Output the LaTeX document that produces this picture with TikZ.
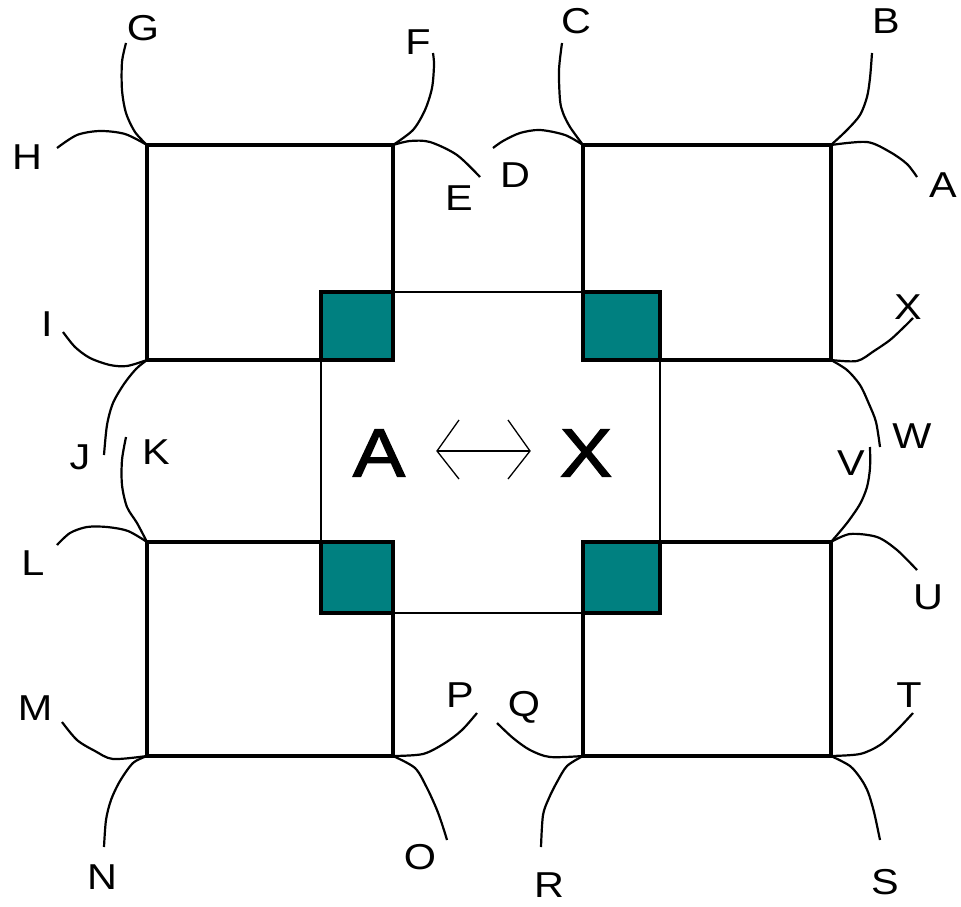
\documentclass[tikz,border=0pt]{standalone}
\usepackage{fontspec}
\setmainfont{Liberation Sans}
\newfontfamily\lblfont[FakeStretch=1.15]{Liberation Sans}
\newfontfamily\bigfont[FakeStretch=1.15,FakeBold=2]{Liberation Sans}
\definecolor{tealc}{HTML}{008080}
\begin{document}
\begin{tikzpicture}[x=1pt,y=-1pt,
  bigsq/.style={draw=black, line width=3.3pt},
  innersq/.style={draw=black, line width=2.3pt},
  tealsq/.style={draw=black, fill=tealc, line width=3.3pt},
  arcline/.style={draw=black, line width=2.2pt},
  tipline/.style={draw=black, line width=1.3pt},
  lbl/.style={inner sep=0pt, anchor=center, font=\lblfont\fontsize{36}{36}\selectfont},
  biglbl/.style={inner sep=0pt, anchor=center, font=\bigfont\fontsize{68}{68}\selectfont}]
\fill[white] (0,0) rectangle (961,907);
\useasboundingbox (0,0) rectangle (961,907);
% corners
\coordinate (tl1) at (147,145); \coordinate (tr1) at (393,145);
\coordinate (bl1) at (147,360); \coordinate (br1) at (393,360);
\coordinate (tl2) at (583,145); \coordinate (tr2) at (831,145);
\coordinate (bl2) at (583,360); \coordinate (br2) at (831,360);
\coordinate (tl3) at (147,542); \coordinate (tr3) at (393,542);
\coordinate (bl3) at (147,756); \coordinate (br3) at (393,756);
\coordinate (tl4) at (583,542); \coordinate (tr4) at (831,542);
\coordinate (bl4) at (583,756); \coordinate (br4) at (831,756);
% center square
\draw[innersq] (321,292) rectangle (660,613);
% big squares
\draw[bigsq] (tl1) rectangle (br1);
\draw[bigsq] (tl2) rectangle (br2);
\draw[bigsq] (tl3) rectangle (br3);
\draw[bigsq] (tl4) rectangle (br4);
% teal squares
\draw[tealsq] (321,292) rectangle (393,360);
\draw[tealsq] (583,292) rectangle (660,360);
\draw[tealsq] (321,542) rectangle (393,613);
\draw[tealsq] (583,542) rectangle (660,613);
% arcs
\draw[arcline] plot[smooth] coordinates {(tl1) (135,132) (126,113) (122,90) (122,62) (126,43)};
\draw[arcline] plot[smooth] coordinates {(tl1) (125,134) (100,131) (77,135) (57,148)};
\draw[arcline] plot[smooth] coordinates {(tr1) (413,130) (425,110) (432,88) (434,65) (433,53)};
\draw[arcline] plot[smooth] coordinates {(tr1) (410,141) (430,142) (457,155) (480,177)};
\draw[arcline] plot[smooth] coordinates {(bl1) (127,366) (110,365) (90,358) (75,347) (63,332)};
\draw[arcline] plot[smooth] coordinates {(bl1) (136,369) (124,384) (113,403) (107,425) (104,455)};
\draw[arcline] plot[smooth] coordinates {(tl3) (137,523) (127,507) (122,485) (122,460) (126,437)};
\draw[arcline] plot[smooth] coordinates {(tl3) (128,531) (107,527) (87,527) (70,533) (57,545)};
\draw[arcline] plot[smooth] coordinates {(bl3) (113,759) (95,751) (77,740) (62,722)};
\draw[arcline] plot[smooth] coordinates {(bl3) (133,763) (120,781) (111,800) (106,820) (104,847)};
\draw[arcline] plot[smooth] coordinates {(br3) (423,754) (445,743) (462,730) (477,713)};
\draw[arcline] plot[smooth] coordinates {(br3) (415,768) (427,788) (437,810) (443,827) (447,840)};
\draw[arcline] plot[smooth] coordinates {(bl4) (550,757) (530,750) (513,738) (497,723)};
\draw[arcline] plot[smooth] coordinates {(bl4) (567,766) (557,782) (549,798) (543,815) (541,847)};
\draw[arcline] plot[smooth] coordinates {(br4) (860,754) (880,745) (897,730) (913,713)};
\draw[arcline] plot[smooth] coordinates {(br4) (850,766) (861,779) (868,792) (874,812) (880,840)};
\draw[arcline] plot[smooth] coordinates {(tr4) (850,534) (877,537) (897,550) (917,570)};
\draw[arcline] plot[smooth] coordinates {(tr4) (847,523) (860,504) (867,487) (870,468) (870,447)};
\draw[arcline] plot[smooth] coordinates {(br2) (847,370) (860,385) (869,404) (876,422) (880,447)};
\draw[arcline] plot[smooth] coordinates {(br2) (857,361) (874,351) (890,340) (903,328) (913,318)};
\draw[arcline] plot[smooth] coordinates {(tl2) (570,127) (563,113) (560,100) (559,70) (562,43)};
\draw[arcline] plot[smooth] coordinates {(tl2) (565,135) (540,130) (520,133) (503,141) (493,148)};
\draw[arcline] plot[smooth] coordinates {(tr2) (847,130) (860,115) (867,97) (870,78) (872,53)};
\draw[arcline] plot[smooth] coordinates {(tr2) (867,142) (890,152) (907,164) (917,177)};
% labels
\node[lbl] (lA) at (943,185) {A};
\node[lbl] (lB) at (886,21) {B};
\node[lbl] (lC) at (576,21) {C};
\node[lbl] (lD) at (515,175) {D};
\node[lbl] (lE) at (459,198) {E};
\node[lbl] (lF) at (418,42) {F};
\node[lbl] (lG) at (143,28) {G};
\node[lbl] (lH) at (27,157) {H};
\node[lbl] (lI) at (47,324) {I};
\node[lbl] (lJ) at (80,457) {J};
\node[lbl] (lK) at (156,452) {K};
\node[lbl] (lL) at (33,563) {L};
\node[lbl] (lM) at (35,708) {M};
\node[lbl] (lN) at (102,877) {N};
\node[lbl] (lO) at (420,857) {O};
\node[lbl] (lP) at (460,695) {P};
\node[lbl] (lQ) at (524,707) {Q};
\node[lbl] (lR) at (549,885) {R};
\node[lbl] (lS) at (885,882) {S};
\node[lbl] (lT) at (909,695) {T};
\node[lbl] (lU) at (928,597) {U};
\node[lbl] (lV) at (851,463) {V};
\node[lbl] (lW) at (912,436) {W};
\node[lbl] (lX) at (908,307) {X};
% center text
\node[biglbl] (cA) at (379,453) {A};
\node[biglbl] (cX) at (586,453) {X};
\coordinate (arL) at (437,451);
\coordinate (arR) at (530,451);
\draw[innersq] (arL) -- (arR);
\draw[tipline] (459,420) -- (arL) -- (459,479);
\draw[tipline] (508,420) -- (arR) -- (508,479);
\end{tikzpicture}
\end{document}
